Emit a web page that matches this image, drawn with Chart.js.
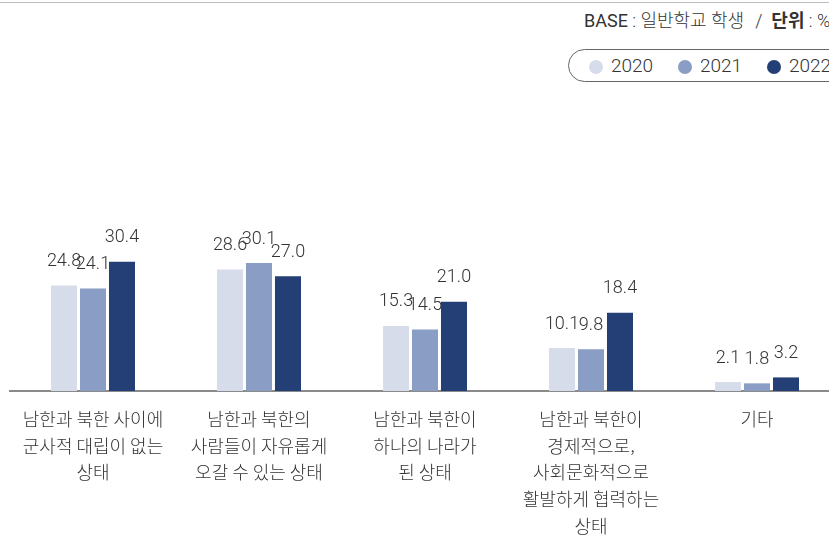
<!DOCTYPE html>
<html lang="ko">
<head>
<meta charset="utf-8">
<script src="https://cdn.jsdelivr.net/npm/chart.js@4.4.1/dist/chart.umd.min.js"></script>
<style>
  html, body { margin: 0; padding: 0; background: #fff; overflow: hidden; }
  body { width: 829px; height: 540px; position: relative; font-family: Roboto, "Noto Sans CJK KR", sans-serif; color: #333; }
  .topline { position: absolute; left: 0; top: 2px; width: 829px; height: 1px; background: #bdbdbd; }
  .base { position: absolute; left: 584px; top: 6px; font-size: 18px; white-space: nowrap; color: #333; font-weight: 300; }
  .base .en { font-weight: 400; }
  .base .sl { margin: 0 9px 0 11px; }
  .base b { font-weight: 700; }
  .legend { position: absolute; left: 568px; top: 49px; width: 300px; height: 31px; border: 1px solid #666; border-radius: 17px; white-space: nowrap; }
  .legend span.item { position: absolute; top: 3px; font-size: 19px; line-height: 26px; color: #333; font-weight: 300; }
  .legend span.dot { position: absolute; top: 10px; width: 14px; height: 14px; border-radius: 50%; }
  .wrap { position: absolute; left: 0; top: 0; width: 840px; height: 540px; }
</style>
</head>
<body>
<div class="topline"></div>
<div class="base"><span class="en">BASE</span> : 일반학교 학생<span class="sl">/</span><b>단위</b> : %</div>
<div class="legend" id="legend"></div>
<div class="wrap"><canvas id="chart"></canvas></div>
<script>
const categories = [
  ["남한과 북한 사이에", "군사적 대립이 없는", "상태"],
  ["남한과 북한의", "사람들이 자유롭게", "오갈 수 있는 상태"],
  ["남한과 북한이", "하나의 나라가", "된 상태"],
  ["남한과 북한이", "경제적으로,", "사회문화적으로", "활발하게 협력하는", "상태"],
  ["기타"]
];
const years = ["2020", "2021", "2022"];
const values2020 = [24.8, 28.6, 15.3, 10.1, 2.1];
const values2021 = [24.1, 30.1, 14.5, 9.8, 1.8];
const values2022 = [30.4, 27.0, 21.0, 18.4, 3.2];
const colors = ["#d6dcea", "#8a9dc4", "#243f75"];

// legend (html, with rounded frame)
const legendEl = document.getElementById("legend");
const dotX = [20, 109, 198];
years.forEach((y, i) => {
  const dot = document.createElement("span");
  dot.className = "dot";
  dot.style.left = dotX[i] + "px";
  dot.style.background = colors[i];
  legendEl.appendChild(dot);
  const txt = document.createElement("span");
  txt.className = "item";
  txt.style.left = (dotX[i] + 22) + "px";
  txt.textContent = y;
  legendEl.appendChild(txt);
});

const valueLabels = {
  id: "valueLabels",
  afterDatasetsDraw(chart) {
    const ctx = chart.ctx;
    ctx.save();
    ctx.font = "300 18px Roboto, 'Noto Sans CJK KR', sans-serif";
    ctx.fillStyle = "#333";
    ctx.textAlign = "center";
    ctx.textBaseline = "bottom";
    chart.data.datasets.forEach((ds, di) => {
      chart.getDatasetMeta(di).data.forEach((bar, i) => {
        ctx.fillText(ds.data[i].toFixed(1), bar.x, bar.y - 15);
      });
    });
    ctx.restore();
  }
};

const seriesData = [values2020, values2021, values2022];

new Chart(document.getElementById("chart"), {
  type: "bar",
  data: {
    labels: categories,
    datasets: years.map((y, i) => ({
      label: y,
      data: seriesData[i],
      backgroundColor: colors[i],
      categoryPercentage: 0.524,
      barPercentage: 0.897
    }))
  },
  options: {
    responsive: true,
    maintainAspectRatio: false,
    animation: false,
    layout: { padding: { left: 10, right: 0, top: 221, bottom: 0 } },
    plugins: { legend: { display: false }, tooltip: { enabled: false } },
    scales: {
      x: {
        grid: { display: false, drawTicks: false },
        border: { display: true, color: "#8a8a8a", width: 2 },
        ticks: {
          color: "#333",
          padding: 15,
          maxRotation: 0,
          autoSkip: false,
          font: { family: "'Noto Sans CJK KR', sans-serif", size: 18, weight: 300, lineHeight: 1.48 }
        },
        afterFit(scale) { scale.height = 149; }
      },
      y: {
        display: false,
        min: 0,
        max: 40
      }
    }
  },
  plugins: [valueLabels]
});
</script>
</body>
</html>
